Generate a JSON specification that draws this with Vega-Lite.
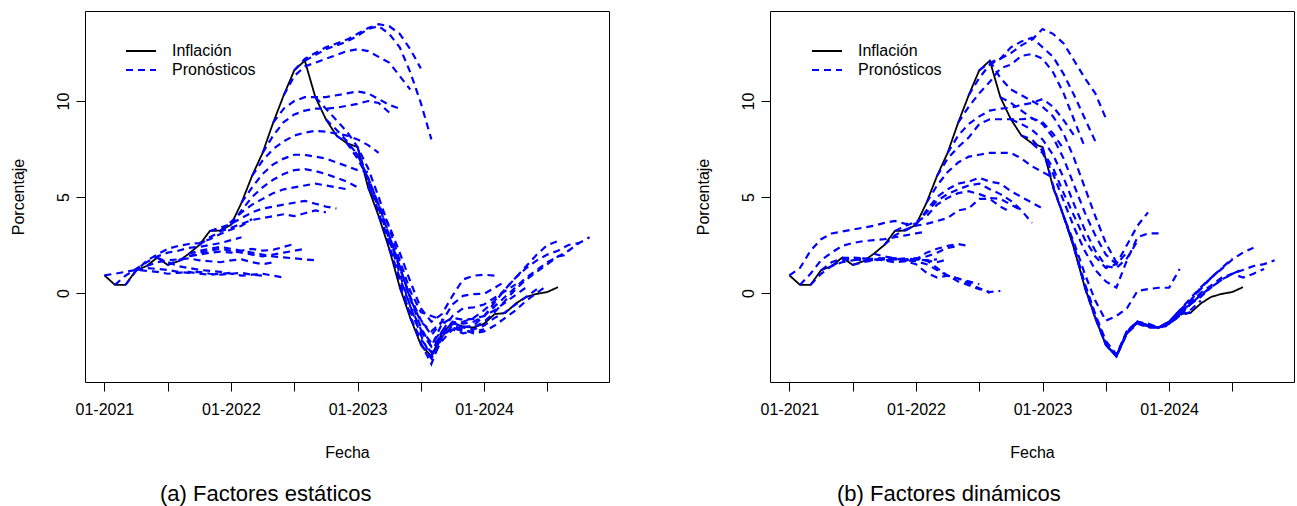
{
"$schema":"https://vega.github.io/schema/vega-lite/v6.json",
"padding":{"left":9,"top":10,"right":1,"bottom":0},
"spacing":84,
"config":{"font":"Liberation Sans","view":{"stroke":"#000","strokeWidth":1},
"axis":{"grid":false,"domain":false,"tickColor":"#000","labelColor":"#000","titleColor":"#000","labelFontSize":16,"titleFontSize":16,"titleFontWeight":"normal","tickSize":9,"labelFont":"Liberation Sans","titleFont":"Liberation Sans"},
"legend":{"labelFont":"Liberation Sans","labelFontSize":16,"labelColor":"#000"}},
"resolve":{"legend":{"color":"independent","strokeDash":"independent"}},
"datasets":{
"inf":[{"m":0,"v":0.92},{"m":1,"v":0.42},{"m":2,"v":0.42},{"m":3,"v":1.18},{"m":4,"v":1.4},{"m":5,"v":1.84},{"m":6,"v":1.46},{"m":7,"v":1.65},{"m":8,"v":2.04},{"m":9,"v":2.5},{"m":10,"v":3.23},{"m":11,"v":3.25},{"m":12,"v":3.55},{"m":13,"v":4.7},{"m":14,"v":6.1},{"m":15,"v":7.3},{"m":16,"v":8.87},{"m":17,"v":10.3},{"m":18,"v":11.6},{"m":19,"v":12.1},{"m":20,"v":10.2},{"m":21,"v":9.05},{"m":22,"v":8.2},{"m":23,"v":7.8},{"m":24,"v":7.6},{"m":25,"v":5.5},{"m":26,"v":4.0},{"m":27,"v":2.3},{"m":28,"v":0.3},{"m":29,"v":-1.3},{"m":30,"v":-2.7},{"m":31,"v":-3.3},{"m":32,"v":-2.1},{"m":33,"v":-1.55},{"m":34,"v":-1.75},{"m":35,"v":-1.8},{"m":36,"v":-1.6},{"m":37,"v":-1.1},{"m":38,"v":-1.05},{"m":39,"v":-0.55},{"m":40,"v":-0.2},{"m":41,"v":-0.05},{"m":42,"v":0.05},{"m":43,"v":0.3}],
"fa":[
{"o":0,"m":0,"v":0.92},{"o":0,"m":1,"v":1.0},{"o":0,"m":2,"v":1.1},{"o":0,"m":3,"v":1.2},{"o":0,"m":4,"v":1.15},{"o":0,"m":5,"v":1.1},{"o":0,"m":6,"v":1.0},{"o":0,"m":7,"v":1.05},{"o":0,"m":8,"v":1.1},{"o":0,"m":9,"v":1.0},{"o":0,"m":10,"v":0.95},{"o":0,"m":11,"v":1.0},{"o":0,"m":12,"v":1.05},
{"o":1,"m":1,"v":0.42},{"o":1,"m":2,"v":0.9},{"o":1,"m":3,"v":1.25},{"o":1,"m":4,"v":1.6},{"o":1,"m":5,"v":1.9},{"o":1,"m":6,"v":2.1},{"o":1,"m":7,"v":2.2},{"o":1,"m":8,"v":2.35},{"o":1,"m":9,"v":2.4},{"o":1,"m":10,"v":2.5},{"o":1,"m":11,"v":2.6},{"o":1,"m":12,"v":2.75},{"o":1,"m":13,"v":2.9},
{"o":2,"m":2,"v":0.42},{"o":2,"m":3,"v":1.15},{"o":2,"m":4,"v":1.67},{"o":2,"m":5,"v":2.0},{"o":2,"m":6,"v":2.3},{"o":2,"m":7,"v":2.45},{"o":2,"m":8,"v":2.55},{"o":2,"m":9,"v":2.6},{"o":2,"m":10,"v":2.8},{"o":2,"m":11,"v":3.07},{"o":2,"m":12,"v":3.3},{"o":2,"m":13,"v":3.5},{"o":2,"m":14,"v":3.85},
{"o":3,"m":3,"v":1.18},{"o":3,"m":4,"v":1.3},{"o":3,"m":5,"v":1.25},{"o":3,"m":6,"v":1.2},{"o":3,"m":7,"v":1.1},{"o":3,"m":8,"v":1.05},{"o":3,"m":9,"v":1.1},{"o":3,"m":10,"v":1.0},{"o":3,"m":11,"v":0.95},{"o":3,"m":12,"v":1.0},{"o":3,"m":13,"v":1.05},{"o":3,"m":14,"v":0.95},{"o":3,"m":15,"v":0.9},
{"o":4,"m":4,"v":1.4},{"o":4,"m":5,"v":1.6},{"o":4,"m":6,"v":1.7},{"o":4,"m":7,"v":1.75},{"o":4,"m":8,"v":1.8},{"o":4,"m":9,"v":1.7},{"o":4,"m":10,"v":1.65},{"o":4,"m":11,"v":1.6},{"o":4,"m":12,"v":1.7},{"o":4,"m":13,"v":1.75},{"o":4,"m":14,"v":1.6},{"o":4,"m":15,"v":1.5},{"o":4,"m":16,"v":1.6},
{"o":5,"m":5,"v":1.84},{"o":5,"m":6,"v":1.6},{"o":5,"m":7,"v":1.4},{"o":5,"m":8,"v":1.3},{"o":5,"m":9,"v":1.2},{"o":5,"m":10,"v":1.15},{"o":5,"m":11,"v":1.1},{"o":5,"m":12,"v":1.0},{"o":5,"m":13,"v":0.9},{"o":5,"m":14,"v":0.95},{"o":5,"m":15,"v":1.0},{"o":5,"m":16,"v":0.9},{"o":5,"m":17,"v":0.8},
{"o":6,"m":6,"v":1.46},{"o":6,"m":7,"v":1.7},{"o":6,"m":8,"v":1.9},{"o":6,"m":9,"v":2.0},{"o":6,"m":10,"v":2.1},{"o":6,"m":11,"v":2.15},{"o":6,"m":12,"v":2.1},{"o":6,"m":13,"v":2.2},{"o":6,"m":14,"v":2.3},{"o":6,"m":15,"v":2.2},{"o":6,"m":16,"v":2.25},{"o":6,"m":17,"v":2.4},{"o":6,"m":18,"v":2.55},
{"o":7,"m":7,"v":1.65},{"o":7,"m":8,"v":1.9},{"o":7,"m":9,"v":2.1},{"o":7,"m":10,"v":2.2},{"o":7,"m":11,"v":2.3},{"o":7,"m":12,"v":2.2},{"o":7,"m":13,"v":2.1},{"o":7,"m":14,"v":2.0},{"o":7,"m":15,"v":1.9},{"o":7,"m":16,"v":2.0},{"o":7,"m":17,"v":2.1},{"o":7,"m":18,"v":2.2},{"o":7,"m":19,"v":2.3},
{"o":8,"m":8,"v":2.04},{"o":8,"m":9,"v":2.2},{"o":8,"m":10,"v":2.3},{"o":8,"m":11,"v":2.4},{"o":8,"m":12,"v":2.3},{"o":8,"m":13,"v":2.2},{"o":8,"m":14,"v":2.1},{"o":8,"m":15,"v":2.0},{"o":8,"m":16,"v":1.9},{"o":8,"m":17,"v":1.85},{"o":8,"m":18,"v":1.8},{"o":8,"m":19,"v":1.75},{"o":8,"m":20,"v":1.7},
{"o":9,"m":9,"v":2.5},{"o":9,"m":10,"v":2.9},{"o":9,"m":11,"v":3.2},{"o":9,"m":12,"v":3.4},{"o":9,"m":13,"v":3.6},{"o":9,"m":14,"v":3.8},{"o":9,"m":15,"v":3.9},{"o":9,"m":16,"v":4.0},{"o":9,"m":17,"v":4.1},{"o":9,"m":18,"v":4.0},{"o":9,"m":19,"v":4.15},{"o":9,"m":20,"v":4.3},{"o":9,"m":21,"v":4.2},
{"o":10,"m":10,"v":3.23},{"o":10,"m":11,"v":3.4},{"o":10,"m":12,"v":3.6},{"o":10,"m":13,"v":3.9},{"o":10,"m":14,"v":4.2},{"o":10,"m":15,"v":4.4},{"o":10,"m":16,"v":4.5},{"o":10,"m":17,"v":4.6},{"o":10,"m":18,"v":4.7},{"o":10,"m":19,"v":4.8},{"o":10,"m":20,"v":4.65},{"o":10,"m":21,"v":4.5},{"o":10,"m":22,"v":4.4},
{"o":11,"m":11,"v":3.25},{"o":11,"m":12,"v":3.7},{"o":11,"m":13,"v":4.2},{"o":11,"m":14,"v":4.6},{"o":11,"m":15,"v":4.9},{"o":11,"m":16,"v":5.2},{"o":11,"m":17,"v":5.4},{"o":11,"m":18,"v":5.5},{"o":11,"m":19,"v":5.6},{"o":11,"m":20,"v":5.7},{"o":11,"m":21,"v":5.6},{"o":11,"m":22,"v":5.5},{"o":11,"m":23,"v":5.4},
{"o":12,"m":12,"v":3.55},{"o":12,"m":13,"v":4.3},{"o":12,"m":14,"v":5.0},{"o":12,"m":15,"v":5.5},{"o":12,"m":16,"v":5.9},{"o":12,"m":17,"v":6.2},{"o":12,"m":18,"v":6.4},{"o":12,"m":19,"v":6.45},{"o":12,"m":20,"v":6.35},{"o":12,"m":21,"v":6.2},{"o":12,"m":22,"v":6.0},{"o":12,"m":23,"v":5.8},{"o":12,"m":24,"v":5.5},
{"o":13,"m":13,"v":4.7},{"o":13,"m":14,"v":5.5},{"o":13,"m":15,"v":6.2},{"o":13,"m":16,"v":6.7},{"o":13,"m":17,"v":7.0},{"o":13,"m":18,"v":7.2},{"o":13,"m":19,"v":7.2},{"o":13,"m":20,"v":7.1},{"o":13,"m":21,"v":7.0},{"o":13,"m":22,"v":6.8},{"o":13,"m":23,"v":6.6},{"o":13,"m":24,"v":6.4},{"o":13,"m":25,"v":6.3},
{"o":14,"m":14,"v":6.1},{"o":14,"m":15,"v":6.9},{"o":14,"m":16,"v":7.5},{"o":14,"m":17,"v":7.9},{"o":14,"m":18,"v":8.2},{"o":14,"m":19,"v":8.35},{"o":14,"m":20,"v":8.45},{"o":14,"m":21,"v":8.4},{"o":14,"m":22,"v":8.3},{"o":14,"m":23,"v":8.2},{"o":14,"m":24,"v":8.0},{"o":14,"m":25,"v":7.7},{"o":14,"m":26,"v":7.3},
{"o":15,"m":15,"v":7.3},{"o":15,"m":16,"v":8.2},{"o":15,"m":17,"v":8.9},{"o":15,"m":18,"v":9.3},{"o":15,"m":19,"v":9.5},{"o":15,"m":20,"v":9.6},{"o":15,"m":21,"v":9.6},{"o":15,"m":22,"v":9.65},{"o":15,"m":23,"v":9.75},{"o":15,"m":24,"v":9.85},{"o":15,"m":25,"v":10.0},{"o":15,"m":26,"v":9.9},{"o":15,"m":27,"v":9.4},
{"o":16,"m":16,"v":8.87},{"o":16,"m":17,"v":9.6},{"o":16,"m":18,"v":10.0},{"o":16,"m":19,"v":10.2},{"o":16,"m":20,"v":10.2},{"o":16,"m":21,"v":10.2},{"o":16,"m":22,"v":10.3},{"o":16,"m":23,"v":10.4},{"o":16,"m":24,"v":10.5},{"o":16,"m":25,"v":10.4},{"o":16,"m":26,"v":10.1},{"o":16,"m":27,"v":9.8},{"o":16,"m":28,"v":9.6},
{"o":17,"m":17,"v":10.3},{"o":17,"m":18,"v":11.3},{"o":17,"m":19,"v":11.8},{"o":17,"m":20,"v":12.0},{"o":17,"m":21,"v":12.2},{"o":17,"m":22,"v":12.4},{"o":17,"m":23,"v":12.6},{"o":17,"m":24,"v":12.7},{"o":17,"m":25,"v":12.6},{"o":17,"m":26,"v":12.3},{"o":17,"m":27,"v":12.0},{"o":17,"m":28,"v":11.3},{"o":17,"m":29,"v":10.6},
{"o":18,"m":18,"v":11.6},{"o":18,"m":19,"v":12.2},{"o":18,"m":20,"v":12.5},{"o":18,"m":21,"v":12.8},{"o":18,"m":22,"v":13.0},{"o":18,"m":23,"v":13.2},{"o":18,"m":24,"v":13.5},{"o":18,"m":25,"v":13.8},{"o":18,"m":26,"v":14.0},{"o":18,"m":27,"v":13.9},{"o":18,"m":28,"v":13.5},{"o":18,"m":29,"v":12.7},{"o":18,"m":30,"v":11.7},
{"o":19,"m":19,"v":12.1},{"o":19,"m":20,"v":12.4},{"o":19,"m":21,"v":12.7},{"o":19,"m":22,"v":12.9},{"o":19,"m":23,"v":13.1},{"o":19,"m":24,"v":13.4},{"o":19,"m":25,"v":13.75},{"o":19,"m":26,"v":13.9},{"o":19,"m":27,"v":13.5},{"o":19,"m":28,"v":12.8},{"o":19,"m":29,"v":11.5},{"o":19,"m":30,"v":9.9},{"o":19,"m":31,"v":8.0},
{"o":20,"m":20,"v":10.2},{"o":20,"m":21,"v":9.6},{"o":20,"m":22,"v":9.0},{"o":20,"m":23,"v":8.4},{"o":20,"m":24,"v":7.6},{"o":20,"m":25,"v":6.5},{"o":20,"m":26,"v":5.0},{"o":20,"m":27,"v":3.4},{"o":20,"m":28,"v":1.7},{"o":20,"m":29,"v":0.1},{"o":20,"m":30,"v":-1.0},{"o":20,"m":31,"v":-1.2},{"o":20,"m":32,"v":-1.4},
{"o":21,"m":21,"v":9.05},{"o":21,"m":22,"v":8.5},{"o":21,"m":23,"v":7.9},{"o":21,"m":24,"v":7.2},{"o":21,"m":25,"v":6.0},{"o":21,"m":26,"v":4.6},{"o":21,"m":27,"v":3.0},{"o":21,"m":28,"v":1.4},{"o":21,"m":29,"v":-0.3},{"o":21,"m":30,"v":-1.5},{"o":21,"m":31,"v":-2.0},{"o":21,"m":32,"v":-1.5},{"o":21,"m":33,"v":-1.7},
{"o":22,"m":22,"v":8.2},{"o":22,"m":23,"v":7.8},{"o":22,"m":24,"v":7.0},{"o":22,"m":25,"v":6.0},{"o":22,"m":26,"v":4.6},{"o":22,"m":27,"v":3.0},{"o":22,"m":28,"v":1.4},{"o":22,"m":29,"v":-0.3},{"o":22,"m":30,"v":-1.8},{"o":22,"m":31,"v":-2.8},{"o":22,"m":32,"v":-2.2},{"o":22,"m":33,"v":-1.8},{"o":22,"m":34,"v":-2.0},
{"o":23,"m":23,"v":7.8},{"o":23,"m":24,"v":7.2},{"o":23,"m":25,"v":5.9},{"o":23,"m":26,"v":4.4},{"o":23,"m":27,"v":2.8},{"o":23,"m":28,"v":1.0},{"o":23,"m":29,"v":-0.7},{"o":23,"m":30,"v":-2.2},{"o":23,"m":31,"v":-3.4},{"o":23,"m":32,"v":-2.5},{"o":23,"m":33,"v":-1.9},{"o":23,"m":34,"v":-2.1},{"o":23,"m":35,"v":-2.0},
{"o":24,"m":24,"v":7.6},{"o":24,"m":25,"v":5.8},{"o":24,"m":26,"v":4.2},{"o":24,"m":27,"v":2.5},{"o":24,"m":28,"v":0.6},{"o":24,"m":29,"v":-1.2},{"o":24,"m":30,"v":-2.6},{"o":24,"m":31,"v":-3.7},{"o":24,"m":32,"v":-2.3},{"o":24,"m":33,"v":-1.8},{"o":24,"m":34,"v":-2.0},{"o":24,"m":35,"v":-2.0},{"o":24,"m":36,"v":-1.9},
{"o":25,"m":25,"v":5.5},{"o":25,"m":26,"v":4.6},{"o":25,"m":27,"v":3.5},{"o":25,"m":28,"v":2.1},{"o":25,"m":29,"v":0.6},{"o":25,"m":30,"v":-0.8},{"o":25,"m":31,"v":-1.5},{"o":25,"m":32,"v":-1.1},{"o":25,"m":33,"v":-0.15},{"o":25,"m":34,"v":0.7},{"o":25,"m":35,"v":0.9},{"o":25,"m":36,"v":0.95},{"o":25,"m":37,"v":0.9},
{"o":26,"m":26,"v":4.0},{"o":26,"m":27,"v":2.8},{"o":26,"m":28,"v":1.3},{"o":26,"m":29,"v":-0.2},{"o":26,"m":30,"v":-1.4},{"o":26,"m":31,"v":-2.2},{"o":26,"m":32,"v":-1.5},{"o":26,"m":33,"v":-0.6},{"o":26,"m":34,"v":-0.15},{"o":26,"m":35,"v":-0.06},{"o":26,"m":36,"v":-0.05},{"o":26,"m":37,"v":0.27},{"o":26,"m":38,"v":0.6},
{"o":27,"m":27,"v":2.3},{"o":27,"m":28,"v":0.8},{"o":27,"m":29,"v":-0.7},{"o":27,"m":30,"v":-1.9},{"o":27,"m":31,"v":-2.6},{"o":27,"m":32,"v":-2.0},{"o":27,"m":33,"v":-1.2},{"o":27,"m":34,"v":-0.8},{"o":27,"m":35,"v":-0.75},{"o":27,"m":36,"v":-0.6},{"o":27,"m":37,"v":-0.25},{"o":27,"m":38,"v":0.1},{"o":27,"m":39,"v":0.45},
{"o":28,"m":28,"v":0.3},{"o":28,"m":29,"v":-1.0},{"o":28,"m":30,"v":-2.0},{"o":28,"m":31,"v":-2.8},{"o":28,"m":32,"v":-1.6},{"o":28,"m":33,"v":-1.3},{"o":28,"m":34,"v":-1.4},{"o":28,"m":35,"v":-1.35},{"o":28,"m":36,"v":-1.2},{"o":28,"m":37,"v":-0.9},{"o":28,"m":38,"v":-0.5},{"o":28,"m":39,"v":-0.1},{"o":28,"m":40,"v":0.3},
{"o":29,"m":29,"v":-1.3},{"o":29,"m":30,"v":-2.4},{"o":29,"m":31,"v":-3.1},{"o":29,"m":32,"v":-2.0},{"o":29,"m":33,"v":-1.6},{"o":29,"m":34,"v":-1.8},{"o":29,"m":35,"v":-1.9},{"o":29,"m":36,"v":-1.7},{"o":29,"m":37,"v":-1.3},{"o":29,"m":38,"v":-1.0},{"o":29,"m":39,"v":-0.6},{"o":29,"m":40,"v":-0.2},{"o":29,"m":41,"v":0.2},
{"o":30,"m":30,"v":-2.7},{"o":30,"m":31,"v":-3.4},{"o":30,"m":32,"v":-2.3},{"o":30,"m":33,"v":-1.7},{"o":30,"m":34,"v":-1.9},{"o":30,"m":35,"v":-2.1},{"o":30,"m":36,"v":-2.0},{"o":30,"m":37,"v":-1.7},{"o":30,"m":38,"v":-1.3},{"o":30,"m":39,"v":-0.9},{"o":30,"m":40,"v":-0.4},{"o":30,"m":41,"v":0.0},{"o":30,"m":42,"v":0.4},
{"o":31,"m":31,"v":-3.3},{"o":31,"m":32,"v":-2.3},{"o":31,"m":33,"v":-1.6},{"o":31,"m":34,"v":-1.5},{"o":31,"m":35,"v":-1.3},{"o":31,"m":36,"v":-0.9},{"o":31,"m":37,"v":-0.4},{"o":31,"m":38,"v":0.2},{"o":31,"m":39,"v":0.8},{"o":31,"m":40,"v":1.4},{"o":31,"m":41,"v":2.0},{"o":31,"m":42,"v":2.5},{"o":31,"m":43,"v":2.7},
{"o":32,"m":32,"v":-2.1},{"o":32,"m":33,"v":-1.5},{"o":32,"m":34,"v":-1.6},{"o":32,"m":35,"v":-1.5},{"o":32,"m":36,"v":-1.2},{"o":32,"m":37,"v":-0.7},{"o":32,"m":38,"v":-0.2},{"o":32,"m":39,"v":0.3},{"o":32,"m":40,"v":0.8},{"o":32,"m":41,"v":1.2},{"o":32,"m":42,"v":1.6},{"o":32,"m":43,"v":1.9},{"o":32,"m":44,"v":2.0},
{"o":33,"m":33,"v":-1.55},{"o":33,"m":34,"v":-1.8},{"o":33,"m":35,"v":-1.7},{"o":33,"m":36,"v":-1.2},{"o":33,"m":37,"v":-0.5},{"o":33,"m":38,"v":0.2},{"o":33,"m":39,"v":0.8},{"o":33,"m":40,"v":1.3},{"o":33,"m":41,"v":1.7},{"o":33,"m":42,"v":2.0},{"o":33,"m":43,"v":2.2},{"o":33,"m":44,"v":2.5},{"o":33,"m":45,"v":2.6},
{"o":34,"m":34,"v":-1.75},{"o":34,"m":35,"v":-1.8},{"o":34,"m":36,"v":-1.5},{"o":34,"m":37,"v":-1.0},{"o":34,"m":38,"v":-0.4},{"o":34,"m":39,"v":0.2},{"o":34,"m":40,"v":0.7},{"o":34,"m":41,"v":1.1},{"o":34,"m":42,"v":1.5},{"o":34,"m":43,"v":1.9},{"o":34,"m":44,"v":2.2},{"o":34,"m":45,"v":2.6},{"o":34,"m":46,"v":2.9}
],
"fb":[
{"o":0,"m":0,"v":0.92},{"o":0,"m":1,"v":1.3},{"o":0,"m":2,"v":2.2},{"o":0,"m":3,"v":2.8},{"o":0,"m":4,"v":3.1},{"o":0,"m":5,"v":3.2},{"o":0,"m":6,"v":3.3},{"o":0,"m":7,"v":3.4},{"o":0,"m":8,"v":3.5},{"o":0,"m":9,"v":3.65},{"o":0,"m":10,"v":3.75},{"o":0,"m":11,"v":3.6},{"o":0,"m":12,"v":3.6},
{"o":1,"m":1,"v":0.42},{"o":1,"m":2,"v":1.0},{"o":1,"m":3,"v":1.7},{"o":1,"m":4,"v":2.1},{"o":1,"m":5,"v":2.45},{"o":1,"m":6,"v":2.6},{"o":1,"m":7,"v":2.7},{"o":1,"m":8,"v":2.75},{"o":1,"m":9,"v":2.8},{"o":1,"m":10,"v":2.9},{"o":1,"m":11,"v":3.0},{"o":1,"m":12,"v":3.1},{"o":1,"m":13,"v":3.2},
{"o":2,"m":2,"v":0.42},{"o":2,"m":3,"v":1.0},{"o":2,"m":4,"v":1.4},{"o":2,"m":5,"v":1.6},{"o":2,"m":6,"v":1.7},{"o":2,"m":7,"v":1.8},{"o":2,"m":8,"v":1.75},{"o":2,"m":9,"v":1.7},{"o":2,"m":10,"v":1.75},{"o":2,"m":11,"v":1.8},{"o":2,"m":12,"v":1.75},{"o":2,"m":13,"v":1.7},{"o":2,"m":14,"v":1.75},
{"o":3,"m":3,"v":1.18},{"o":3,"m":4,"v":1.6},{"o":3,"m":5,"v":1.8},{"o":3,"m":6,"v":1.85},{"o":3,"m":7,"v":1.8},{"o":3,"m":8,"v":1.75},{"o":3,"m":9,"v":1.8},{"o":3,"m":10,"v":1.8},{"o":3,"m":11,"v":1.75},{"o":3,"m":12,"v":1.8},{"o":3,"m":13,"v":1.7},{"o":3,"m":14,"v":1.6},{"o":3,"m":15,"v":1.75},
{"o":4,"m":4,"v":1.4},{"o":4,"m":5,"v":1.7},{"o":4,"m":6,"v":1.75},{"o":4,"m":7,"v":1.7},{"o":4,"m":8,"v":1.8},{"o":4,"m":9,"v":1.8},{"o":4,"m":10,"v":1.75},{"o":4,"m":11,"v":1.7},{"o":4,"m":12,"v":1.8},{"o":4,"m":13,"v":1.9},{"o":4,"m":14,"v":2.1},{"o":4,"m":15,"v":2.35},{"o":4,"m":16,"v":2.45},
{"o":5,"m":5,"v":1.84},{"o":5,"m":6,"v":1.8},{"o":5,"m":7,"v":1.75},{"o":5,"m":8,"v":1.7},{"o":5,"m":9,"v":1.75},{"o":5,"m":10,"v":1.8},{"o":5,"m":11,"v":1.7},{"o":5,"m":12,"v":1.75},{"o":5,"m":13,"v":2.1},{"o":5,"m":14,"v":2.3},{"o":5,"m":15,"v":2.45},{"o":5,"m":16,"v":2.55},{"o":5,"m":17,"v":2.45},
{"o":6,"m":6,"v":1.46},{"o":6,"m":7,"v":1.6},{"o":6,"m":8,"v":1.7},{"o":6,"m":9,"v":1.75},{"o":6,"m":10,"v":1.75},{"o":6,"m":11,"v":1.7},{"o":6,"m":12,"v":1.75},{"o":6,"m":13,"v":1.7},{"o":6,"m":14,"v":1.3},{"o":6,"m":15,"v":0.9},{"o":6,"m":16,"v":0.75},{"o":6,"m":17,"v":0.6},{"o":6,"m":18,"v":0.45},
{"o":7,"m":7,"v":1.65},{"o":7,"m":8,"v":1.75},{"o":7,"m":9,"v":1.7},{"o":7,"m":10,"v":1.6},{"o":7,"m":11,"v":1.65},{"o":7,"m":12,"v":1.5},{"o":7,"m":13,"v":1.05},{"o":7,"m":14,"v":0.8},{"o":7,"m":15,"v":0.9},{"o":7,"m":16,"v":0.75},{"o":7,"m":17,"v":0.5},{"o":7,"m":18,"v":0.25},{"o":7,"m":19,"v":0.0},
{"o":8,"m":8,"v":2.04},{"o":8,"m":9,"v":1.9},{"o":8,"m":10,"v":1.8},{"o":8,"m":11,"v":1.7},{"o":8,"m":12,"v":1.65},{"o":8,"m":13,"v":1.5},{"o":8,"m":14,"v":1.2},{"o":8,"m":15,"v":0.9},{"o":8,"m":16,"v":0.6},{"o":8,"m":17,"v":0.4},{"o":8,"m":18,"v":0.2},{"o":8,"m":19,"v":0.05},{"o":8,"m":20,"v":0.1},
{"o":9,"m":9,"v":2.5},{"o":9,"m":10,"v":3.0},{"o":9,"m":11,"v":3.3},{"o":9,"m":12,"v":3.5},{"o":9,"m":13,"v":3.6},{"o":9,"m":14,"v":3.75},{"o":9,"m":15,"v":3.9},{"o":9,"m":16,"v":4.3},{"o":9,"m":17,"v":4.4},{"o":9,"m":18,"v":4.9},{"o":9,"m":19,"v":4.9},{"o":9,"m":20,"v":4.5},{"o":9,"m":21,"v":4.2},
{"o":10,"m":10,"v":3.23},{"o":10,"m":11,"v":3.5},{"o":10,"m":12,"v":3.7},{"o":10,"m":13,"v":4.0},{"o":10,"m":14,"v":4.6},{"o":10,"m":15,"v":4.95},{"o":10,"m":16,"v":5.2},{"o":10,"m":17,"v":5.3},{"o":10,"m":18,"v":5.15},{"o":10,"m":19,"v":4.95},{"o":10,"m":20,"v":4.9},{"o":10,"m":21,"v":4.6},{"o":10,"m":22,"v":4.3},
{"o":11,"m":11,"v":3.25},{"o":11,"m":12,"v":3.6},{"o":11,"m":13,"v":4.2},{"o":11,"m":14,"v":4.8},{"o":11,"m":15,"v":5.15},{"o":11,"m":16,"v":5.4},{"o":11,"m":17,"v":5.6},{"o":11,"m":18,"v":5.7},{"o":11,"m":19,"v":5.4},{"o":11,"m":20,"v":5.15},{"o":11,"m":21,"v":4.8},{"o":11,"m":22,"v":4.3},{"o":11,"m":23,"v":3.65},
{"o":12,"m":12,"v":3.55},{"o":12,"m":13,"v":4.3},{"o":12,"m":14,"v":5.0},{"o":12,"m":15,"v":5.4},{"o":12,"m":16,"v":5.7},{"o":12,"m":17,"v":5.8},{"o":12,"m":18,"v":6.0},{"o":12,"m":19,"v":5.8},{"o":12,"m":20,"v":5.7},{"o":12,"m":21,"v":5.3},{"o":12,"m":22,"v":5.0},{"o":12,"m":23,"v":4.7},{"o":12,"m":24,"v":4.4},
{"o":13,"m":13,"v":4.7},{"o":13,"m":14,"v":5.6},{"o":13,"m":15,"v":6.3},{"o":13,"m":16,"v":6.8},{"o":13,"m":17,"v":7.1},{"o":13,"m":18,"v":7.2},{"o":13,"m":19,"v":7.3},{"o":13,"m":20,"v":7.3},{"o":13,"m":21,"v":7.3},{"o":13,"m":22,"v":7.0},{"o":13,"m":23,"v":6.6},{"o":13,"m":24,"v":6.3},{"o":13,"m":25,"v":6.0},
{"o":14,"m":14,"v":6.1},{"o":14,"m":15,"v":7.0},{"o":14,"m":16,"v":7.6},{"o":14,"m":17,"v":8.1},{"o":14,"m":18,"v":8.8},{"o":14,"m":19,"v":9.05},{"o":14,"m":20,"v":9.05},{"o":14,"m":21,"v":9.05},{"o":14,"m":22,"v":9.05},{"o":14,"m":23,"v":9.1},{"o":14,"m":24,"v":8.9},{"o":14,"m":25,"v":8.3},{"o":14,"m":26,"v":7.5},
{"o":15,"m":15,"v":7.3},{"o":15,"m":16,"v":8.2},{"o":15,"m":17,"v":8.8},{"o":15,"m":18,"v":9.2},{"o":15,"m":19,"v":9.5},{"o":15,"m":20,"v":9.6},{"o":15,"m":21,"v":9.65},{"o":15,"m":22,"v":9.8},{"o":15,"m":23,"v":9.9},{"o":15,"m":24,"v":10.1},{"o":15,"m":25,"v":9.7},{"o":15,"m":26,"v":9.0},{"o":15,"m":27,"v":8.2},
{"o":16,"m":16,"v":8.87},{"o":16,"m":17,"v":9.7},{"o":16,"m":18,"v":10.4},{"o":16,"m":19,"v":11.0},{"o":16,"m":20,"v":11.7},{"o":16,"m":21,"v":11.9},{"o":16,"m":22,"v":12.35},{"o":16,"m":23,"v":12.45},{"o":16,"m":24,"v":12.2},{"o":16,"m":25,"v":11.5},{"o":16,"m":26,"v":10.4},{"o":16,"m":27,"v":9.0},{"o":16,"m":28,"v":7.6},
{"o":17,"m":17,"v":10.3},{"o":17,"m":18,"v":11.2},{"o":17,"m":19,"v":11.9},{"o":17,"m":20,"v":12.2},{"o":17,"m":21,"v":12.8},{"o":17,"m":22,"v":13.1},{"o":17,"m":23,"v":13.3},{"o":17,"m":24,"v":12.8},{"o":17,"m":25,"v":12.3},{"o":17,"m":26,"v":11.4},{"o":17,"m":27,"v":10.3},{"o":17,"m":28,"v":9.1},{"o":17,"m":29,"v":7.9},
{"o":18,"m":18,"v":11.6},{"o":18,"m":19,"v":12.0},{"o":18,"m":20,"v":12.2},{"o":18,"m":21,"v":12.5},{"o":18,"m":22,"v":12.9},{"o":18,"m":23,"v":13.2},{"o":18,"m":24,"v":13.75},{"o":18,"m":25,"v":13.5},{"o":18,"m":26,"v":13.0},{"o":18,"m":27,"v":12.1},{"o":18,"m":28,"v":11.2},{"o":18,"m":29,"v":10.4},{"o":18,"m":30,"v":9.1},
{"o":19,"m":19,"v":12.1},{"o":19,"m":20,"v":11.2},{"o":19,"m":21,"v":10.6},{"o":19,"m":22,"v":10.3},{"o":19,"m":23,"v":10.0},{"o":19,"m":24,"v":9.7},{"o":19,"m":25,"v":9.2},{"o":19,"m":26,"v":8.3},{"o":19,"m":27,"v":7.0},{"o":19,"m":28,"v":5.5},{"o":19,"m":29,"v":4.0},{"o":19,"m":30,"v":2.6},{"o":19,"m":31,"v":1.6},
{"o":20,"m":20,"v":10.2},{"o":20,"m":21,"v":9.9},{"o":20,"m":22,"v":9.5},{"o":20,"m":23,"v":9.1},{"o":20,"m":24,"v":8.8},{"o":20,"m":25,"v":8.1},{"o":20,"m":26,"v":7.0},{"o":20,"m":27,"v":5.6},{"o":20,"m":28,"v":4.2},{"o":20,"m":29,"v":3.0},{"o":20,"m":30,"v":2.0},{"o":20,"m":31,"v":1.5},{"o":20,"m":32,"v":2.1},
{"o":21,"m":21,"v":9.05},{"o":21,"m":22,"v":8.8},{"o":21,"m":23,"v":8.5},{"o":21,"m":24,"v":8.0},{"o":21,"m":25,"v":7.2},{"o":21,"m":26,"v":6.0},{"o":21,"m":27,"v":4.6},{"o":21,"m":28,"v":3.3},{"o":21,"m":29,"v":2.2},{"o":21,"m":30,"v":1.4},{"o":21,"m":31,"v":1.3},{"o":21,"m":32,"v":1.8},{"o":21,"m":33,"v":2.7},
{"o":22,"m":22,"v":8.2},{"o":22,"m":23,"v":8.0},{"o":22,"m":24,"v":7.4},{"o":22,"m":25,"v":6.5},{"o":22,"m":26,"v":5.2},{"o":22,"m":27,"v":4.0},{"o":22,"m":28,"v":2.8},{"o":22,"m":29,"v":1.9},{"o":22,"m":30,"v":1.3},{"o":22,"m":31,"v":1.5},{"o":22,"m":32,"v":2.5},{"o":22,"m":33,"v":3.5},{"o":22,"m":34,"v":4.2},
{"o":23,"m":23,"v":7.8},{"o":23,"m":24,"v":7.3},{"o":23,"m":25,"v":6.2},{"o":23,"m":26,"v":4.8},{"o":23,"m":27,"v":3.4},{"o":23,"m":28,"v":2.2},{"o":23,"m":29,"v":1.2},{"o":23,"m":30,"v":0.6},{"o":23,"m":31,"v":0.28},{"o":23,"m":32,"v":1.7},{"o":23,"m":33,"v":2.9},{"o":23,"m":34,"v":3.1},{"o":23,"m":35,"v":3.1},
{"o":24,"m":24,"v":7.6},{"o":24,"m":25,"v":5.6},{"o":24,"m":26,"v":4.0},{"o":24,"m":27,"v":2.4},{"o":24,"m":28,"v":0.4},{"o":24,"m":29,"v":-1.2},{"o":24,"m":30,"v":-2.6},{"o":24,"m":31,"v":-3.3},{"o":24,"m":32,"v":-2.0},{"o":24,"m":33,"v":-1.5},{"o":24,"m":34,"v":-1.7},{"o":24,"m":35,"v":-1.8},{"o":24,"m":36,"v":-1.7},
{"o":25,"m":25,"v":5.5},{"o":25,"m":26,"v":4.0},{"o":25,"m":27,"v":2.6},{"o":25,"m":28,"v":1.0},{"o":25,"m":29,"v":-0.4},{"o":25,"m":30,"v":-1.45},{"o":25,"m":31,"v":-1.2},{"o":25,"m":32,"v":-0.8},{"o":25,"m":33,"v":0.1},{"o":25,"m":34,"v":0.2},{"o":25,"m":35,"v":0.27},{"o":25,"m":36,"v":0.27},{"o":25,"m":37,"v":1.25},
{"o":26,"m":26,"v":4.0},{"o":26,"m":27,"v":2.4},{"o":26,"m":28,"v":0.5},{"o":26,"m":29,"v":-1.1},{"o":26,"m":30,"v":-2.5},{"o":26,"m":31,"v":-3.2},{"o":26,"m":32,"v":-2.0},{"o":26,"m":33,"v":-1.5},{"o":26,"m":34,"v":-1.7},{"o":26,"m":35,"v":-1.8},{"o":26,"m":36,"v":-1.6},{"o":26,"m":37,"v":-1.2},{"o":26,"m":38,"v":-1.0},
{"o":27,"m":27,"v":2.3},{"o":27,"m":28,"v":0.4},{"o":27,"m":29,"v":-1.2},{"o":27,"m":30,"v":-2.6},{"o":27,"m":31,"v":-3.3},{"o":27,"m":32,"v":-2.1},{"o":27,"m":33,"v":-1.5},{"o":27,"m":34,"v":-1.6},{"o":27,"m":35,"v":-1.8},{"o":27,"m":36,"v":-1.6},{"o":27,"m":37,"v":-1.1},{"o":27,"m":38,"v":-0.9},{"o":27,"m":39,"v":-0.4},
{"o":28,"m":28,"v":0.3},{"o":28,"m":29,"v":-1.3},{"o":28,"m":30,"v":-2.7},{"o":28,"m":31,"v":-3.3},{"o":28,"m":32,"v":-2.0},{"o":28,"m":33,"v":-1.5},{"o":28,"m":34,"v":-1.8},{"o":28,"m":35,"v":-1.8},{"o":28,"m":36,"v":-1.6},{"o":28,"m":37,"v":-1.1},{"o":28,"m":38,"v":-0.6},{"o":28,"m":39,"v":-0.2},{"o":28,"m":40,"v":0.3},
{"o":29,"m":29,"v":-1.3},{"o":29,"m":30,"v":-2.7},{"o":29,"m":31,"v":-3.3},{"o":29,"m":32,"v":-2.1},{"o":29,"m":33,"v":-1.6},{"o":29,"m":34,"v":-1.8},{"o":29,"m":35,"v":-1.8},{"o":29,"m":36,"v":-1.5},{"o":29,"m":37,"v":-1.0},{"o":29,"m":38,"v":-0.4},{"o":29,"m":39,"v":0.27},{"o":29,"m":40,"v":0.8},{"o":29,"m":41,"v":1.3},
{"o":30,"m":30,"v":-2.7},{"o":30,"m":31,"v":-3.3},{"o":30,"m":32,"v":-2.0},{"o":30,"m":33,"v":-1.5},{"o":30,"m":34,"v":-1.7},{"o":30,"m":35,"v":-1.8},{"o":30,"m":36,"v":-1.5},{"o":30,"m":37,"v":-0.9},{"o":30,"m":38,"v":-0.4},{"o":30,"m":39,"v":0.2},{"o":30,"m":40,"v":0.8},{"o":30,"m":41,"v":1.3},{"o":30,"m":42,"v":1.8},
{"o":31,"m":31,"v":-3.3},{"o":31,"m":32,"v":-2.1},{"o":31,"m":33,"v":-1.5},{"o":31,"m":34,"v":-1.7},{"o":31,"m":35,"v":-1.8},{"o":31,"m":36,"v":-1.6},{"o":31,"m":37,"v":-1.0},{"o":31,"m":38,"v":-0.6},{"o":31,"m":39,"v":-0.1},{"o":31,"m":40,"v":0.3},{"o":31,"m":41,"v":0.7},{"o":31,"m":42,"v":1.0},{"o":31,"m":43,"v":1.25},
{"o":32,"m":32,"v":-2.1},{"o":32,"m":33,"v":-1.5},{"o":32,"m":34,"v":-1.7},{"o":32,"m":35,"v":-1.8},{"o":32,"m":36,"v":-1.5},{"o":32,"m":37,"v":-0.9},{"o":32,"m":38,"v":-0.3},{"o":32,"m":39,"v":0.3},{"o":32,"m":40,"v":0.8},{"o":32,"m":41,"v":1.25},{"o":32,"m":42,"v":1.75},{"o":32,"m":43,"v":2.1},{"o":32,"m":44,"v":2.35},
{"o":33,"m":33,"v":-1.55},{"o":33,"m":34,"v":-1.7},{"o":33,"m":35,"v":-1.8},{"o":33,"m":36,"v":-1.5},{"o":33,"m":37,"v":-1.0},{"o":33,"m":38,"v":-0.5},{"o":33,"m":39,"v":0.0},{"o":33,"m":40,"v":0.4},{"o":33,"m":41,"v":0.8},{"o":33,"m":42,"v":1.0},{"o":33,"m":43,"v":0.8},{"o":33,"m":44,"v":1.0},{"o":33,"m":45,"v":1.25},
{"o":34,"m":34,"v":-1.75},{"o":34,"m":35,"v":-1.8},{"o":34,"m":36,"v":-1.6},{"o":34,"m":37,"v":-1.2},{"o":34,"m":38,"v":-0.6},{"o":34,"m":39,"v":-0.1},{"o":34,"m":40,"v":0.3},{"o":34,"m":41,"v":0.7},{"o":34,"m":42,"v":1.0},{"o":34,"m":43,"v":1.2},{"o":34,"m":44,"v":1.4},{"o":34,"m":45,"v":1.5},{"o":34,"m":46,"v":1.7}
]},
"hconcat":[
{"width":524,"height":371,
"title":{"text":"(a) Factores estáticos","orient":"bottom","anchor":"start","frame":"group","dx":75,"fontSize":22,"fontWeight":"normal","offset":24,"color":"#000","font":"Liberation Sans"},
"encoding":{
"x":{"field":"m","type":"quantitative","scale":{"domain":[-1.84,47.84],"nice":false,"zero":false},"axis":{"values":[0,6,12,18,24,30,36,42],"labelExpr":"datum.value % 12 === 0 ? '01-' + (2021 + datum.value / 12) : ''","title":"Fecha","labelPadding":10,"titlePadding":27,"labelFlush":false,"labelOverlap":false}},
"y":{"field":"v","type":"quantitative","scale":{"domain":[-4.64,14.69],"nice":false,"zero":false},"axis":{"values":[0,5,10],"title":"Porcentaje","labelAngle":270,"labelAlign":"center","labelBaseline":"bottom","labelPadding":5,"titlePadding":29}}},
"layer":[
{"data":{"name":"inf"},"mark":{"type":"line","strokeWidth":1.8},"encoding":{
"color":{"datum":"Inflación","scale":{"domain":["Inflación","Pronósticos"],"range":["#000000","#0000ff"]},"legend":{"title":null,"orient":"none","legendX":45,"legendY":29,"symbolType":"M-1.5,0H1.5","symbolSize":400,"symbolStrokeWidth":2,"labelOffset":20,"rowPadding":0,"padding":0}},
"strokeDash":{"datum":"Inflación","scale":{"domain":["Inflación","Pronósticos"],"range":[[1,0],[7,5]]},"legend":{"title":null,"orient":"none","legendX":45,"legendY":29,"symbolType":"M-1.5,0H1.5","symbolSize":400,"symbolStrokeWidth":2,"labelOffset":20,"rowPadding":0,"padding":0}}}},
{"data":{"name":"fa"},"mark":{"type":"line","strokeWidth":2.2},"encoding":{"detail":{"field":"o"},"color":{"datum":"Pronósticos"},"strokeDash":{"datum":"Pronósticos"}}}
]},
{"width":524,"height":371,
"title":{"text":"(b) Factores dinámicos","orient":"bottom","anchor":"start","frame":"group","dx":67,"fontSize":22,"fontWeight":"normal","offset":24,"color":"#000","font":"Liberation Sans"},
"encoding":{
"x":{"field":"m","type":"quantitative","scale":{"domain":[-1.84,47.84],"nice":false,"zero":false},"axis":{"values":[0,6,12,18,24,30,36,42],"labelExpr":"datum.value % 12 === 0 ? '01-' + (2021 + datum.value / 12) : ''","title":"Fecha","labelPadding":10,"titlePadding":27,"labelFlush":false,"labelOverlap":false}},
"y":{"field":"v","type":"quantitative","scale":{"domain":[-4.64,14.69],"nice":false,"zero":false},"axis":{"values":[0,5,10],"title":"Porcentaje","labelAngle":270,"labelAlign":"center","labelBaseline":"bottom","labelPadding":5,"titlePadding":29}}},
"layer":[
{"data":{"name":"inf"},"mark":{"type":"line","strokeWidth":1.8},"encoding":{
"color":{"datum":"Inflación","scale":{"domain":["Inflación","Pronósticos"],"range":["#000000","#0000ff"]},"legend":{"title":null,"orient":"none","legendX":46,"legendY":29,"symbolType":"M-1.5,0H1.5","symbolSize":400,"symbolStrokeWidth":2,"labelOffset":20,"rowPadding":0,"padding":0}},
"strokeDash":{"datum":"Inflación","scale":{"domain":["Inflación","Pronósticos"],"range":[[1,0],[7,5]]},"legend":{"title":null,"orient":"none","legendX":46,"legendY":29,"symbolType":"M-1.5,0H1.5","symbolSize":400,"symbolStrokeWidth":2,"labelOffset":20,"rowPadding":0,"padding":0}}}},
{"data":{"name":"fb"},"mark":{"type":"line","strokeWidth":2.2},"encoding":{"detail":{"field":"o"},"color":{"datum":"Pronósticos"},"strokeDash":{"datum":"Pronósticos"}}}
]}
]}
